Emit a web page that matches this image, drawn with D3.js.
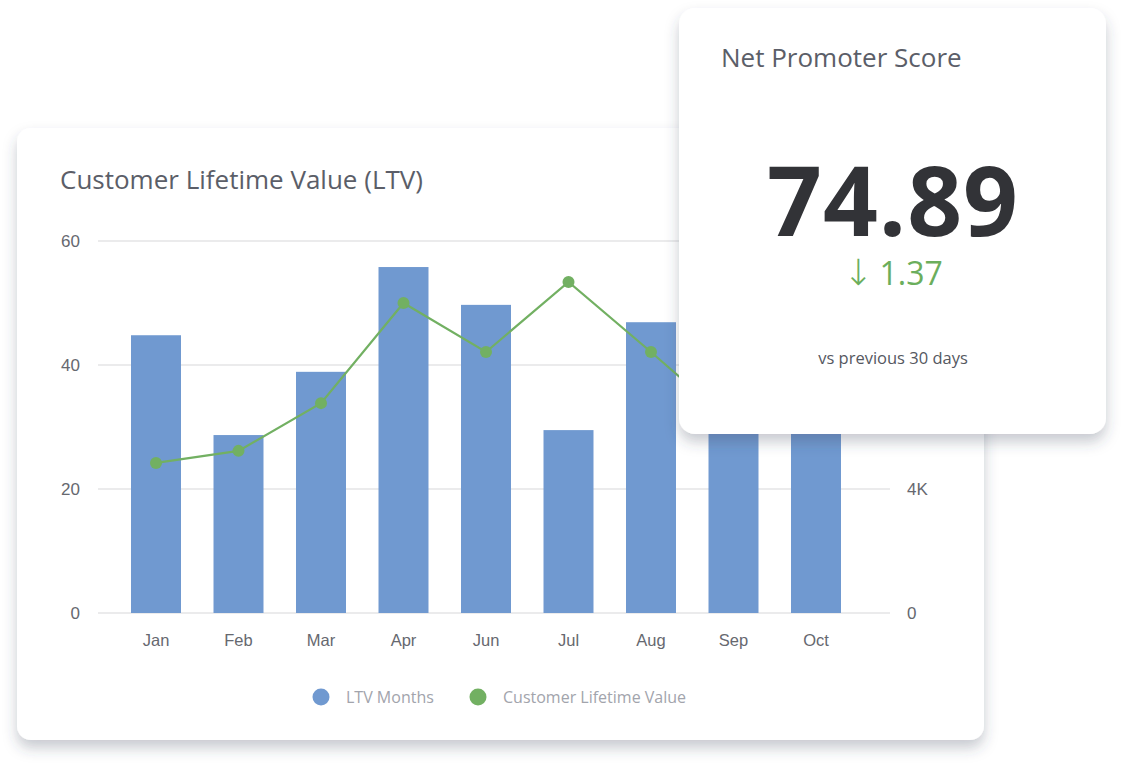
<!DOCTYPE html>
<html><head><meta charset="utf-8">
<script src="https://cdn.jsdelivr.net/npm/d3@7"></script>
<style>
html,body{margin:0;padding:0;background:#fff;}
svg{display:block;font-family:"Open Sans","Noto Sans",sans-serif;}
</style></head>
<body>
<svg id="c" width="1124" height="768"></svg>
<script>
const months = ["Jan","Feb","Mar","Apr","Jun","Jul","Aug","Sep","Oct"];
const ltvMonths = [44.8, 28.7, 38.9, 55.8, 49.7, 29.5, 46.9, 36.5, 38.5];
const lifetimeValue = [4840, 5230, 6770, 10000, 8420, 10680, 8420, 6100, 7000];
const leftTicks = [0, 20, 40, 60];
const rightTicks = [0, 4000];
const rightTickLabels = ["0", "4K"];
const seriesNames = ["LTV Months", "Customer Lifetime Value"];
const npsTitle = "Net Promoter Score";
const npsValue = "74.89";
const npsArrow = "↓";
const npsChange = "1.37";
const npsNote = "vs previous 30 days";
const chartTitle = "Customer Lifetime Value (LTV)";

const svg = d3.select("#c");
const defs = svg.append("defs");
const f = defs.append("filter").attr("id","sh").attr("x","-10%").attr("y","-10%").attr("width","120%").attr("height","125%");
f.append("feDropShadow").attr("dx",0).attr("dy",8).attr("stdDeviation",7).attr("flood-color","#3c3f5a").attr("flood-opacity",0.28);

const barColor = "#7099d0", lineColor = "#72b062";

// main card
svg.append("rect").attr("x",17).attr("y",128).attr("width",967).attr("height",612).attr("rx",14)
  .attr("fill","#fff").attr("filter","url(#sh)");

svg.append("text").attr("x",60).attr("y",189).attr("font-size",26).attr("fill","#5b5e68").text(chartTitle);

const x = d3.scaleBand().domain(months).range([114.75, 857.25]).paddingInner(0.394).paddingOuter(0.197);
const yL = d3.scaleLinear().domain([0,60]).range([613,241]);
const yR = d3.scaleLinear().domain([0,12000]).range([613,241]);

// grid
svg.append("g").selectAll("line").data(leftTicks).join("line")
  .attr("x1",98).attr("x2",890).attr("y1",d=>yL(d)).attr("y2",d=>yL(d))
  .attr("stroke","#e4e4e6").attr("stroke-width",1.5);

// left axis
const gl = svg.append("g").attr("transform","translate(80,0)")
  .call(d3.axisLeft(yL).tickValues(leftTicks).tickSize(0).tickPadding(0));
gl.select(".domain").remove();
gl.selectAll("text").attr("font-size",17).attr("fill","#66686f").attr("font-family","inherit");

// right axis
const gr = svg.append("g").attr("transform","translate(907,0)")
  .call(d3.axisRight(yR).tickValues(rightTicks).tickFormat((d,i)=>rightTickLabels[i]).tickSize(0).tickPadding(0));
gr.select(".domain").remove();
gr.selectAll("text").attr("font-size",17).attr("fill","#66686f").attr("font-family","inherit");

// bottom axis
const gb = svg.append("g").attr("transform","translate(0,634)")
  .call(d3.axisBottom(x).tickSize(0).tickPadding(0));
gb.select(".domain").remove();
gb.selectAll("text").attr("font-size",16.5).attr("fill","#66686f").attr("font-family","inherit");

// bars
svg.append("g").selectAll("rect").data(months).join("rect")
  .attr("x",d=>x(d)).attr("width",x.bandwidth())
  .attr("y",(d,i)=>yL(ltvMonths[i])).attr("height",(d,i)=>yL(0)-yL(ltvMonths[i]))
  .attr("fill",barColor);

// line
const line = d3.line().x((d,i)=>x(months[i])+x.bandwidth()/2).y(d=>yR(d));
svg.append("path").datum(lifetimeValue).attr("d",line).attr("fill","none").attr("stroke",lineColor).attr("stroke-width",2.2);
svg.append("g").selectAll("circle").data(lifetimeValue).join("circle")
  .attr("cx",(d,i)=>x(months[i])+x.bandwidth()/2).attr("cy",d=>yR(d)).attr("r",6).attr("fill",lineColor);

// legend
const lg = svg.append("g");
const legX = [321, 478];
const legC = [barColor, lineColor];
seriesNames.forEach((n,i)=>{
  lg.append("circle").attr("cx",legX[i]).attr("cy",697).attr("r",8.5).attr("fill",legC[i]);
  lg.append("text").attr("x",legX[i]+25).attr("y",703).attr("font-size",16).attr("fill","#a2a4ac").text(n);
});

// NPS card
svg.append("rect").attr("x",679).attr("y",8).attr("width",427).attr("height",426).attr("rx",16)
  .attr("fill","#fff").attr("filter","url(#sh)");
svg.append("text").attr("x",721).attr("y",67).attr("font-size",26).attr("fill","#5b5e68").text(npsTitle);
svg.append("text").attr("x",893).attr("y",236).attr("text-anchor","middle").attr("font-size",96)
  .attr("font-weight",700).attr("fill","#323337").attr("letter-spacing",1).text(npsValue);
const ch = svg.append("text").attr("x",893).attr("y",285).attr("text-anchor","middle").attr("font-size",32)
  .attr("fill","#6bae5c");
ch.append("tspan").attr("font-family","'DejaVu Sans ExtraLight','DejaVu Sans'").attr("font-weight",200).attr("font-size",36).text(npsArrow);
ch.append("tspan").attr("dx",6).text(npsChange);
svg.append("text").attr("x",893).attr("y",364).attr("text-anchor","middle").attr("font-size",16.5)
  .attr("fill","#55585f").text(npsNote);
</script>
</body></html>
